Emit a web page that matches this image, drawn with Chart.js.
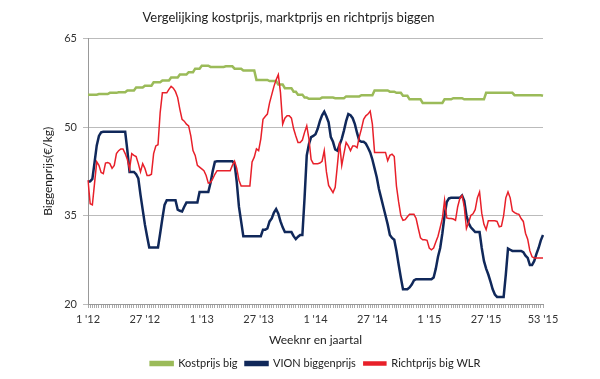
<!DOCTYPE html>
<html>
<head>
<meta charset="utf-8">
<script src="https://cdn.jsdelivr.net/npm/chart.js@4"></script>
<style>
  html, body { margin: 0; padding: 0; background: #ffffff; }
  canvas { display: block; background: #ffffff; }
</style>
</head>
<body>
<canvas id="c" width="600" height="379"></canvas>
<script>
const yearTags = ["'12", "'13", "'14", "'15"];
const weeksPerYear = [52, 52, 52, 53];
const shownTicks = ["1 '12", "27 '12", "1 '13", "27 '13", "1 '14", "27 '14", "1 '15", "27 '15", "53 '15"];
const yTicks = [20, 35, 50, 65];

const kostprijs = [
  55.5,55.5,55.5,55.5,55.5,55.6,55.6,55.6,55.6,55.6,
  55.8,55.8,55.8,55.8,55.9,55.9,55.9,55.9,56.2,56.2,
  56.2,56.2,56.7,56.7,56.7,56.7,57.0,57.0,57.0,57.0,
  57.6,57.6,57.6,57.6,57.9,57.9,57.9,57.9,58.4,58.4,
  58.4,58.4,58.9,58.9,58.9,58.9,59.3,59.3,59.3,59.9,
  59.9,59.9,60.4,60.4,60.4,60.4,60.2,60.2,60.2,60.2,
  60.2,60.2,60.2,60.3,60.3,60.3,60.3,59.9,59.9,59.9,
  59.9,59.6,59.6,59.6,59.6,59.6,59.6,58.0,58.0,58.0,
  58.0,58.0,58.0,57.8,57.8,57.8,57.8,57.2,57.2,57.2,
  56.6,56.6,56.6,56.6,56.0,56.0,55.5,55.5,55.5,55.0,
  55.0,54.8,54.8,54.8,54.8,54.8,54.8,55.0,55.0,55.0,
  55.0,55.0,55.0,54.9,54.9,54.9,54.9,54.9,55.2,55.2,
  55.2,55.2,55.2,55.2,55.2,55.4,55.4,55.4,55.4,55.4,
  55.4,56.2,56.2,56.2,56.2,56.2,56.2,56.2,56.0,56.0,
  56.0,55.8,55.8,55.8,55.3,55.3,55.3,54.7,54.7,54.7,
  54.7,54.7,54.7,54.1,54.1,54.1,54.1,54.1,54.1,54.1,
  54.1,54.1,54.1,54.7,54.7,54.7,54.7,54.9,54.9,54.9,
  54.9,54.9,54.7,54.7,54.7,54.7,54.7,54.7,54.7,54.7,
  54.7,54.7,55.8,55.8,55.8,55.8,55.8,55.8,55.8,55.8,
  55.8,55.8,55.8,55.8,55.8,55.4,55.4,55.4,55.4,55.4,
  55.4,55.4,55.4,55.4,55.4,55.4,55.4,55.4,55.3
];

const vion = [
  40.7,40.8,41.2,44.0,46.9,48.5,49.1,49.2,49.2,49.2,
  49.2,49.2,49.2,49.2,49.2,49.2,49.2,49.2,46.0,42.4,
  42.4,42.4,42.0,41.3,38.5,36.0,33.5,31.5,29.6,29.6,
  29.6,29.6,29.6,32.0,34.5,36.8,37.6,37.6,37.6,37.6,
  37.6,36.0,35.8,35.7,36.5,37.2,37.2,37.2,37.2,37.2,
  37.2,39.0,39.0,39.0,39.0,39.0,40.5,42.5,44.1,44.2,
  44.2,44.2,44.2,44.2,44.2,44.2,44.2,43.8,40.7,36.5,
  34.0,31.5,31.5,31.5,31.5,31.5,31.5,31.5,31.5,31.5,
  32.6,32.6,32.8,34.0,34.5,35.5,36.1,35.3,34.0,33.0,
  32.2,32.2,32.2,32.2,31.5,31.0,31.4,31.7,31.7,38.0,
  45.2,47.1,48.3,48.5,48.8,49.7,51.0,52.0,52.6,51.8,
  50.8,48.3,47.5,46.2,46.0,47.0,48.0,49.4,51.0,52.2,
  52.0,51.5,50.5,49.0,47.7,47.5,47.5,47.2,46.5,45.7,
  44.5,43.0,41.5,39.5,38.0,36.5,35.0,33.5,31.7,31.2,
  30.9,29.0,26.7,24.5,22.5,22.5,22.5,22.8,23.3,24.0,
  24.2,24.2,24.2,24.2,24.2,24.2,24.2,24.2,24.5,26.0,
  28.0,29.5,32.0,35.0,37.3,37.9,38.0,38.0,38.0,38.0,
  38.0,38.4,37.5,35.0,33.7,33.0,32.6,32.2,32.2,32.2,
  29.5,27.3,26.0,25.0,23.8,22.5,21.6,21.2,21.2,21.2,
  21.2,25.0,29.4,29.2,29.0,29.0,29.0,29.0,29.0,28.8,
  28.2,27.8,26.6,26.6,27.3,28.5,29.5,30.8,31.7
];

const richtprijs = [
  41.0,37.0,36.8,40.5,44.1,43.5,42.3,42.1,43.9,44.0,
  43.8,43.0,43.5,45.5,46.0,46.3,46.3,45.5,44.5,42.9,
  45.5,45.2,45.0,43.8,42.4,43.8,43.0,41.8,41.8,42.0,
  45.5,46.8,47.0,52.5,55.8,55.8,55.8,56.4,56.9,56.6,
  56.0,55.0,53.0,51.3,51.0,50.5,50.2,48.5,46.0,45.2,
  43.5,43.2,42.9,42.6,41.8,40.5,40.6,41.2,42.0,42.6,
  42.6,42.6,42.6,42.6,42.6,42.6,43.5,44.2,43.0,41.0,
  40.0,40.0,40.0,40.0,40.0,44.1,44.9,46.3,46.0,48.0,
  51.3,51.8,52.2,54.1,55.5,56.9,58.0,58.9,55.8,50.5,
  51.5,51.9,51.9,51.5,49.7,48.5,47.4,47.4,47.8,49.1,
  50.2,48.0,44.5,43.8,43.8,43.8,43.9,44.2,46.0,42.4,
  40.1,39.5,38.9,39.8,43.5,47.4,43.5,45.5,47.4,46.8,
  46.0,46.8,46.8,46.5,48.3,49.7,51.3,51.9,52.2,52.7,
  50.5,45.7,45.7,45.7,45.7,45.7,45.7,44.3,45.2,45.4,
  45.0,40.0,37.3,35.0,34.2,34.3,34.8,35.2,35.2,35.2,
  34.5,32.8,31.2,30.9,30.9,30.8,29.5,29.2,29.5,30.5,
  31.5,33.0,34.5,37.6,34.6,34.5,34.5,34.4,34.2,36.5,
  37.9,38.4,36.5,32.8,33.8,35.0,35.3,36.0,38.0,39.0,
  35.4,33.5,32.6,34.1,34.1,34.1,34.1,34.0,33.1,33.2,
  35.0,38.0,39.0,38.0,35.8,35.5,35.3,35.2,34.5,34.0,
  32.0,31.0,29.0,28.0,27.8,27.8,27.8,27.8,27.8
];

const categories = [];
yearTags.forEach((tag, yi) => {
  for (let w = 1; w <= weeksPerYear[yi]; w++) categories.push(w + ' ' + tag);
});

const FONT = 'Lato, "Open Sans", sans-serif';

new Chart(document.getElementById('c'), {
  type: 'line',
  data: {
    labels: categories,
    datasets: [
      { label: 'Kostprijs big', data: kostprijs, borderColor: '#9BBB59', backgroundColor: '#9BBB59', borderWidth: 2.5, pointRadius: 0, tension: 0, order: 2 },
      { label: 'VION biggenprijs', data: vion, borderColor: '#10285A', backgroundColor: '#10285A', borderWidth: 2.5, pointRadius: 0, tension: 0, order: 1 },
      { label: 'Richtprijs big WLR', data: richtprijs, borderColor: '#E8202A', backgroundColor: '#E8202A', borderWidth: 1.5, pointRadius: 0, tension: 0, order: 0 }
    ]
  },
  options: {
    responsive: false,
    animation: false,
    layout: { padding: { top: 6, left: 34, right: 57, bottom: 0 } },
    plugins: {
      title: {
        display: true,
        text: 'Vergelijking kostprijs, marktprijs en richtprijs biggen',
        color: '#222',
        font: { family: FONT, size: 13, weight: 'normal' },
        padding: { top: 4, bottom: 13 }
      },
      legend: {
        position: 'bottom',
        fullSize: false,
        labels: {
          boxWidth: 22, boxHeight: 3, padding: 8,
          color: '#222',
          font: { family: FONT, size: 11 },
          sort: (a, b) => a.datasetIndex - b.datasetIndex
        }
      },
      tooltip: { enabled: false }
    },
    scales: {
      x: {
        ticks: {
          autoSkip: false, maxRotation: 0, minRotation: 0, padding: 5,
          color: '#333', font: { family: FONT, size: 11 },
          callback: function (value) {
            const l = this.getLabelForValue(value);
            return shownTicks.includes(l) ? l : '';
          }
        },
        grid: { display: true, drawOnChartArea: false, drawTicks: true, tickLength: 4, color: '#aaa' },
        border: { color: '#999' },
        title: { display: true, text: 'Weeknr en jaartal', color: '#222', font: { family: FONT, size: 12 }, padding: { top: 5, bottom: 3 } },
        afterFit: (s) => { s.height = 46; }
      },
      y: {
        min: 20, max: 65,
        afterBuildTicks: (s) => { s.ticks = yTicks.map(v => ({ value: v })); },
        ticks: { padding: 6, color: '#333', font: { family: FONT, size: 11 } },
        grid: { color: '#bbb', tickLength: 5 },
        border: { color: '#999' },
        title: { display: true, text: 'Biggenprijs(€/kg)', color: '#222', font: { family: FONT, size: 12 }, padding: { top: 7, bottom: 4 } },
        afterFit: (s) => { s.width = 54; }
      }
    }
  }
});
</script>
</body>
</html>
